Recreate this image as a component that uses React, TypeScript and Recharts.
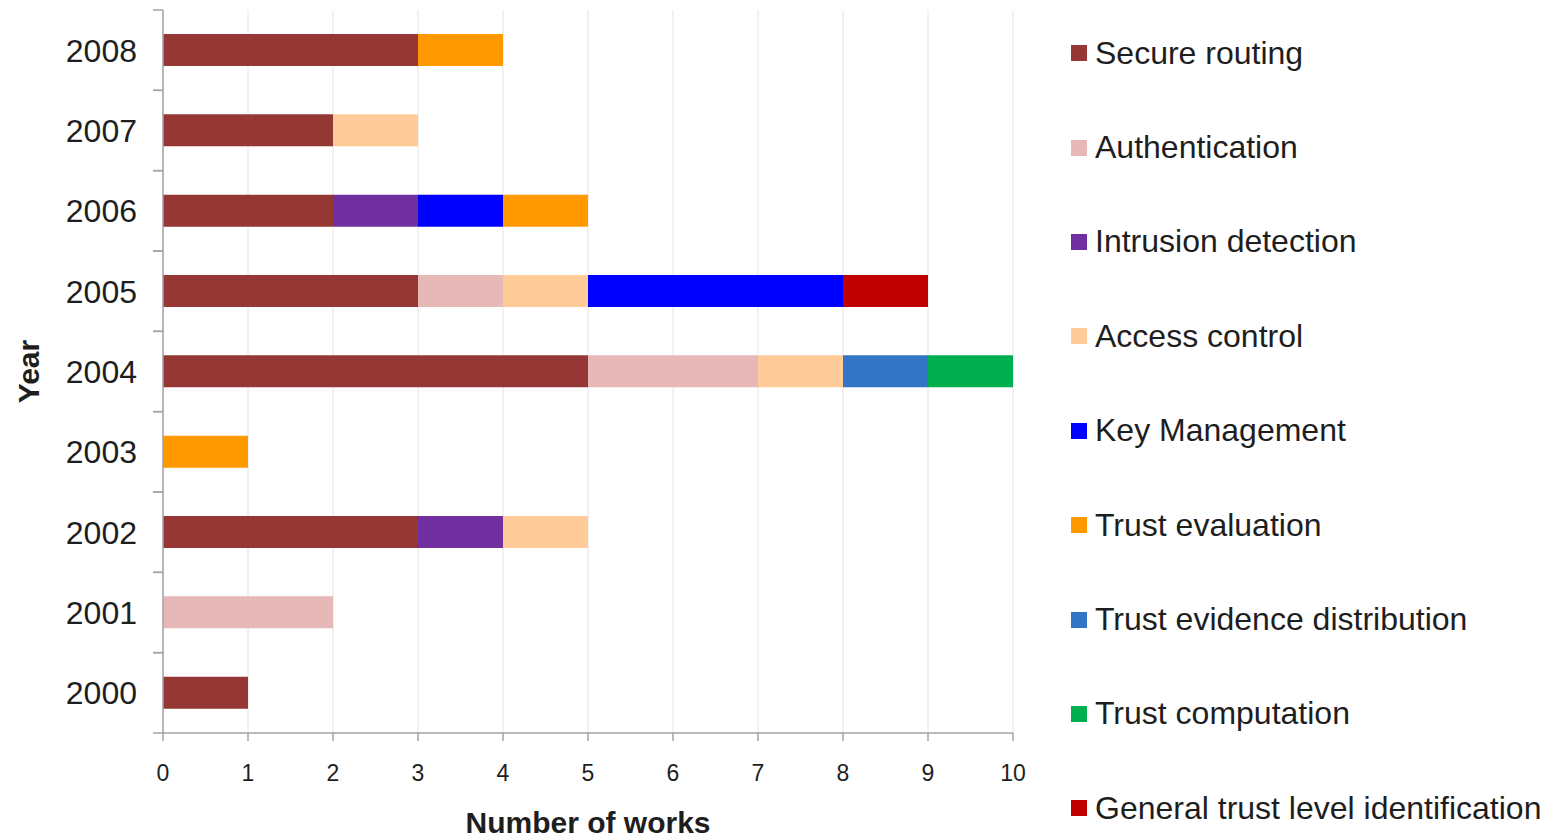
import { BarChart, Bar, XAxis, YAxis, CartesianGrid, Label } from 'recharts';

const YEARS = ['2000', '2001', '2002', '2003', '2004', '2005', '2006', '2007', '2008'];

const SECURE_ROUTING = [1, 0, 3, 0, 5, 3, 2, 2, 3];
const AUTHENTICATION = [0, 2, 0, 0, 2, 1, 0, 0, 0];
const INTRUSION_DETECTION = [0, 0, 1, 0, 0, 0, 1, 0, 0];
const ACCESS_CONTROL = [0, 0, 1, 0, 1, 1, 0, 1, 0];
const KEY_MANAGEMENT = [0, 0, 0, 0, 0, 3, 1, 0, 0];
const TRUST_EVALUATION = [0, 0, 0, 1, 0, 0, 1, 0, 1];
const TRUST_EVIDENCE = [0, 0, 0, 0, 1, 0, 0, 0, 0];
const TRUST_COMPUTATION = [0, 0, 0, 0, 1, 0, 0, 0, 0];
const GENERAL_TRUST = [0, 0, 0, 0, 0, 1, 0, 0, 0];

const X_TICKS = [0, 1, 2, 3, 4, 5, 6, 7, 8, 9, 10];

const SERIES = [
  { key: 'sr', name: 'Secure routing', values: SECURE_ROUTING, color: '#953735' },
  { key: 'au', name: 'Authentication', values: AUTHENTICATION, color: '#e6b9b8' },
  { key: 'id', name: 'Intrusion detection', values: INTRUSION_DETECTION, color: '#7030a0' },
  { key: 'ac', name: 'Access control', values: ACCESS_CONTROL, color: '#ffcc99' },
  { key: 'km', name: 'Key Management', values: KEY_MANAGEMENT, color: '#0000ff' },
  { key: 'te', name: 'Trust evaluation', values: TRUST_EVALUATION, color: '#ff9900' },
  { key: 'ted', name: 'Trust evidence distribution', values: TRUST_EVIDENCE, color: '#3374c6' },
  { key: 'tc', name: 'Trust computation', values: TRUST_COMPUTATION, color: '#00b050' },
  { key: 'gt', name: 'General trust level identification', values: GENERAL_TRUST, color: '#c00000' },
];

const data = YEARS.map((year, i) => {
  const row: Record<string, string | number> = { year };
  SERIES.forEach((s) => {
    row[s.key] = s.values[i];
  });
  return row;
});

const FONT = '"Liberation Sans", Arial, sans-serif';
const AXIS = '#a3a3a3';
const TEXT = '#1e1e1e';

// category ticks sit between the bands, like the spreadsheet original
function YearTick(props: any) {
  const { x, y, payload } = props;
  const half = payload && payload.offset ? payload.offset : 40;
  const axisX = x + 26;
  return (
    <g>
      <line x1={axisX - 10} x2={axisX} y1={y - half} y2={y - half} stroke={AXIS} strokeWidth={1.5} />
      <line x1={axisX - 10} x2={axisX} y1={y + half} y2={y + half} stroke={AXIS} strokeWidth={1.5} />
      <text x={x} y={y} dy="0.36em" textAnchor="end" fontSize={32} fill={TEXT} fontFamily={FONT}>
        {payload.value}
      </text>
    </g>
  );
}

function LegendBox() {
  return (
    <div
      style={{
        position: 'absolute',
        left: 1071,
        top: 6,
        fontFamily: FONT,
        fontSize: 32,
        color: TEXT,
      }}
    >
      {SERIES.map((s) => (
        <div key={s.key} style={{ height: 94.4, display: 'flex', alignItems: 'center', whiteSpace: 'nowrap' }}>
          <span style={{ width: 16, height: 16, background: s.color, display: 'inline-block', marginRight: 8 }} />
          <span>{s.name}</span>
        </div>
      ))}
    </div>
  );
}

export default function App() {
  return (
    <div style={{ position: 'absolute', left: 0, top: 0, width: 1558, height: 840, background: '#fff' }}>
      <BarChart
        width={1558}
        height={840}
        data={data}
        layout="vertical"
        margin={{ top: 10, right: 545, bottom: 0, left: 0 }}
      >
        <CartesianGrid horizontal={false} stroke="#e4e4e4" />
        <XAxis
          type="number"
          domain={[0, 10]}
          ticks={X_TICKS}
          interval={0}
          height={107}
          tickSize={8}
          tickMargin={24}
          stroke={AXIS}
          strokeWidth={1.5}
          tick={{ fontSize: 23, fill: TEXT, fontFamily: FONT }}
        >
          <Label
            value="Number of works"
            position="insideBottom"
            offset={7}
            style={{ fontSize: 30, fontWeight: 'bold', fill: TEXT, fontFamily: FONT }}
          />
        </XAxis>
        <YAxis
          type="category"
          dataKey="year"
          reversed
          width={163}
          tickSize={10}
          tickMargin={16}
          tickLine={false}
          stroke={AXIS}
          strokeWidth={1.5}
          tick={<YearTick />}
          interval={0}
        >
          <Label
            content={(p: any) => {
              const vb = p.viewBox || {};
              const cy = (vb.y || 0) + (vb.height || 0) / 2;
              return (
                <text
                  x={28}
                  y={cy}
                  transform={`rotate(-90, 28, ${cy})`}
                  textAnchor="middle"
                  dominantBaseline="central"
                  fontSize={30}
                  fontWeight="bold"
                  fill={TEXT}
                  fontFamily={FONT}
                >
                  Year
                </text>
              );
            }}
          />
        </YAxis>
        {SERIES.map((s) => (
          <Bar key={s.key} dataKey={s.key} name={s.name} stackId="a" fill={s.color} barSize={32} isAnimationActive={false} />
        ))}
      </BarChart>
      <LegendBox />
    </div>
  );
}
